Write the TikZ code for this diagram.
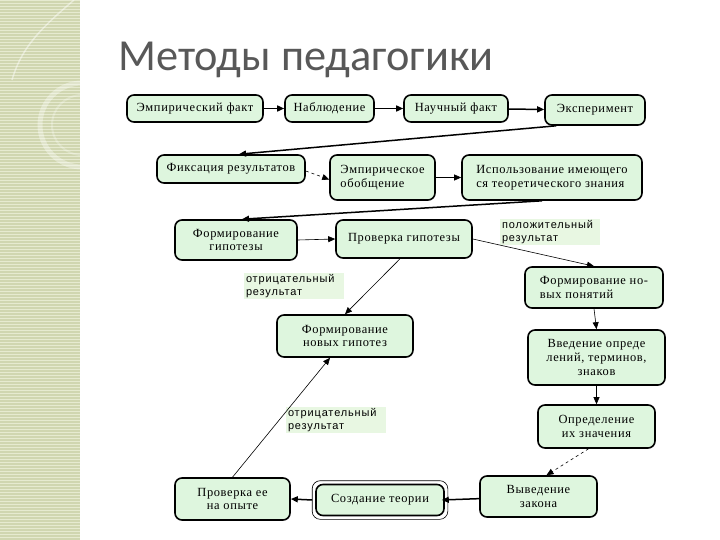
\documentclass[tikz,border=0pt]{standalone}
\usepackage{fontspec}
\setmainfont{Liberation Serif}[LetterSpace=5]
\newfontfamily\titlefont{Carlito}
\newfontfamily\labelfont{Liberation Sans}[LetterSpace=8]
\usetikzlibrary{arrows.meta,calc}
\definecolor{boxfill}{RGB}{222,246,222}
\definecolor{labfill}{RGB}{232,247,226}
\definecolor{band}{RGB}{208,214,176}
\definecolor{bandlight}{RGB}{230,234,208}
\definecolor{titlegray}{RGB}{88,88,88}
\begin{document}
\begin{tikzpicture}[x=1bp,y=-1bp,
  stepbox/.style={draw=black, line width=1.6bp, rounded corners=7bp, fill=boxfill,
    inner sep=2bp, font=\fontsize{12.5}{14}\selectfont, align=center},
  lab/.style={fill=labfill, font=\labelfont\fontsize{11}{12.5}\selectfont, align=left,
    inner sep=2bp, text width=96bp},
  arr/.style={-{Triangle[length=7bp,width=6bp]}, line width=0.6bp},
  tarr/.style={-{Triangle[length=7bp,width=6bp]}, line width=1.5bp},
  darr/.style={arr, dashed}]
\useasboundingbox (0,0) rectangle (720,540);
\fill[white] (0,0) rectangle (720,540);
% left band
\fill[band] (0,0) rectangle (80,540);
\foreach \yy in {0,3,...,540} \fill[bandlight] (0,\yy) rectangle (80,\yy+1.3);
\draw[white, opacity=0.45, line width=1.5bp] (74,0) .. controls (45,25) and (22,45) .. (12,80);
\begin{scope}
\clip (0,0) rectangle (80,540);
\draw[white, opacity=0.35, line width=5bp] (82,125) circle[radius=42];
\draw[white, opacity=0.25, line width=2bp] (82,125) circle[radius=30];
\end{scope}
\draw[white, opacity=0.6, line width=1bp] (80,0) -- (80,540);
% title
\node[anchor=base west, text=titlegray, font=\titlefont\fontsize{44.5}{48}\selectfont, inner sep=0] (title) at (118,71) {Методы педагогики};
% boxes
\node[stepbox, minimum width=136bp, minimum height=27bp] (n1) at (195,108.5) {Эмпирический факт};
\node[stepbox, minimum width=89bp, minimum height=27bp] (n2) at (329.5,108.5) {Наблюдение};
\node[stepbox, minimum width=104bp, minimum height=27bp] (n3) at (456,108.5) {Научный факт};
\node[stepbox, minimum width=100bp, minimum height=30bp] (n4) at (595,110) {Эксперимент};
\node[stepbox, minimum width=148bp, minimum height=28bp] (n5) at (231,169) {Фиксация результатов};
\node[stepbox, minimum width=105bp, minimum height=45bp, align=left] (n6) at (382.5,177.5) {Эмпирическое\\обобщение};
\node[stepbox, minimum width=180bp, minimum height=45bp, align=left] (n7) at (552,177.5) {Использование имеющего\\ся теоретического знания};
\node[stepbox, minimum width=122bp, minimum height=40bp] (n8) at (236,240) {Формирование\\гипотезы};
\node[stepbox, minimum width=136bp, minimum height=38bp] (n9) at (404,239) {Проверка гипотезы};
\node[stepbox, minimum width=138bp, minimum height=41bp, align=left] (n10) at (594,287.5) {Формирование но-\\вых понятий};
\node[stepbox, minimum width=136bp, minimum height=42bp] (n11) at (345,336) {Формирование\\новых гипотез};
\node[stepbox, minimum width=137bp, minimum height=55bp] (n12) at (596.5,357.5) {Введение опреде\\лений, терминов,\\знаков};
\node[stepbox, minimum width=117bp, minimum height=43bp] (n13) at (596.5,426.5) {Определение\\их значения};
\node[stepbox, minimum width=115bp, minimum height=42bp] (n14) at (232.5,499) {Проверка ее\\на опыте};
\node[stepbox, minimum width=128bp, minimum height=31bp] (n15) at (380,500) {Создание теории};
\draw[line width=0.6bp, rounded corners=8bp] ([shift={(-3,-3)}]n15.north west) rectangle ([shift={(3,3)}]n15.south east);
\node[stepbox, minimum width=117bp, minimum height=41bp] (n16) at (538.5,496.5) {Выведение\\закона};
% labels
\node[lab] (l1) at (550,232) {положительный\\результат};
\node[lab] (l2) at (294,286) {отрицательный\\результат};
\node[lab] (l3) at (336,420) {отрицательный\\результат};
% connectors
\draw[tarr] (n1) -- (n2);
\draw[tarr] (n2) -- (n3);
\draw[tarr] (n3) -- (n4);
\draw[tarr] ([xshift=12bp]n4.south west) -- ([xshift=8bp]n5.north);
\draw[darr] ([yshift=-2bp]n5.east) -- ([yshift=-2bp]n6.west);
\draw[arr] (n6.east) -- (n7.west);
\draw[tarr] ([xshift=-10bp]n7.south) -- ([xshift=6bp]n8.north);
\draw[arr] (n8.east) -- (n9.west);
\draw[arr] (n9.east) -- (n10.north);
\draw[arr] ([xshift=-4bp]n9.south) -- (n11.north);
\draw[arr] (n10.south) -- (n12.north);
\draw[arr] (n12.south) -- (n13.south |- n13.north);
\draw[darr] ([xshift=-8bp]n13.south) -- ([xshift=8bp]n16.north);
\draw[tarr] (n16) -- ([xshift=-3bp]n15.east);
\draw[tarr] ([xshift=-3bp]n15.west) -- (n14.east);
\draw[arr] (n14.north) -- ([xshift=-15bp]n11.south);
\end{tikzpicture}
\end{document}
